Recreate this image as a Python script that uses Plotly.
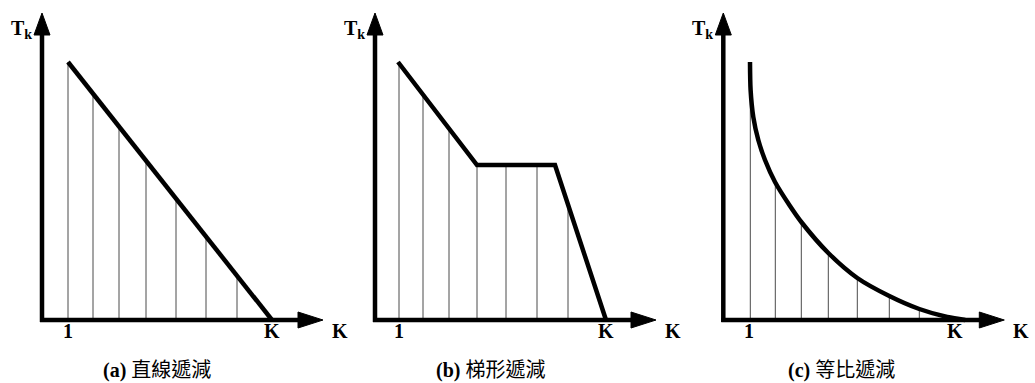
import plotly.graph_objects as go

# Panel geometry is expressed in screen-like units: origin of each panel's axes at (0, 0)
# Step positions k (thin vertical lines) and temperature T_k at each step

# (a) linear decrease
k_a = [26, 51, 77, 104, 134, 164, 195]
T_a = [258, 226, 193, 159, 121, 83, 44]
curve_a_k = [26, 230]
curve_a_T = [258, 0]

# (b) trapezoid decrease
k_b = [24, 48, 74, 102, 131, 162, 193]
T_b = [257, 225, 191, 155, 155, 155, 116]
curve_b_k = [23, 102, 180, 231]
curve_b_T = [258, 155, 155, 0]

# (c) geometric decrease
k_c = [27, 52, 78, 105, 134, 166, 196]
T_c = [230, 138, 98, 67, 42, 24, 11]
curve_c_k = [26.7, 27.3, 30, 35, 41.7, 51.7, 66.7, 78, 105, 134, 166, 196, 224, 242]
curve_c_T = [258, 230, 203, 180, 160, 138, 114, 98, 67, 42, 24, 11, 3, 0]

first_tick = [26, 24, 26]
last_tick = [230, 231, 232]
captions = ["(a)", "(b)", "(c)"]
caption_words = ["直線遞減", "梯形遞減", "等比遞減"]

W, H = 1035, 383
origins = [42, 375, 723.3]      # pixel x of each panel's vertical axis
panel_left = [0, 345, 690]
panel_right = [345, 690, 1035]
origin_y = 63                   # pixel distance of horizontal axis from the bottom

panels = [
    (k_a, T_a, curve_a_k, curve_a_T, "linear"),
    (k_b, T_b, curve_b_k, curve_b_T, "linear"),
    (k_c, T_c, curve_c_k, curve_c_T, "spline"),
]

fig = go.Figure()
shapes = []
annotations = []
SERIF = "Times New Roman, Liberation Serif, Noto Sans CJK TC, serif"

for i, (ks, Ts, ck, cT, shape) in enumerate(panels):
    n = "" if i == 0 else str(i + 1)
    xa, ya = "x" + n, "y" + n
    left = panel_left[i]
    right = panel_right[i]
    o = origins[i]
    fig.layout["xaxis" + n] = dict(
        domain=[left / W, right / W], range=[left - o, right - o],
        visible=False, fixedrange=True,
    )
    fig.layout["yaxis" + n] = dict(
        domain=[0, 1], range=[-origin_y, H - origin_y],
        visible=False, fixedrange=True,
    )

    # thin vertical step lines
    vx, vy = [], []
    for k, t in zip(ks, Ts):
        vx += [k, k, None]
        vy += [0, t, None]
    fig.add_trace(go.Scatter(
        x=vx, y=vy, mode="lines", xaxis=xa, yaxis=ya,
        line=dict(color="#4a4a4a", width=1), hoverinfo="skip", showlegend=False,
    ))

    # temperature schedule curve
    fig.add_trace(go.Scatter(
        x=ck, y=cT, mode="lines", xaxis=xa, yaxis=ya,
        line=dict(color="black", width=4.5, shape=shape, smoothing=0.8),
        hoverinfo="skip", showlegend=False,
    ))

    # axes with arrow heads
    shapes.append(dict(type="line", xref=xa, yref=ya, x0=-2, y0=0, x1=258, y1=0,
                       line=dict(color="black", width=4.5)))
    shapes.append(dict(type="line", xref=xa, yref=ya, x0=0, y0=-2, x1=0, y1=287,
                       line=dict(color="black", width=4.5)))
    shapes.append(dict(type="path", xref=xa, yref=ya,
                       path="M 256 -8 L 281 0 L 256 8 Z",
                       fillcolor="black", line=dict(color="black", width=1)))
    shapes.append(dict(type="path", xref=xa, yref=ya,
                       path="M -8 285 L 0 307 L 8 285 Z",
                       fillcolor="black", line=dict(color="black", width=1)))

    # labels
    annotations.append(dict(
        xref=xa, yref=ya, x=-8, y=291, xanchor="right", yanchor="middle",
        text="<b>T<sub>k</sub></b>", showarrow=False,
        font=dict(family=SERIF, size=20, color="black"),
    ))
    for pos, lab in [(first_tick[i], "1"), (last_tick[i], "K")]:
        annotations.append(dict(
            xref=xa, yref=ya, x=pos, y=-11, xanchor="center", yanchor="middle",
            text="<b>%s</b>" % lab, showarrow=False,
            font=dict(family=SERIF, size=20, color="black"),
        ))
    annotations.append(dict(
        xref=xa, yref=ya, x=298, y=-11, xanchor="center", yanchor="middle",
        text="<b>K</b>", showarrow=False,
        font=dict(family=SERIF, size=20, color="black"),
    ))
    cap_center = [157, 490, 841][i]
    annotations.append(dict(
        xref=xa, yref=ya, x=cap_center - o, y=-50, xanchor="center", yanchor="middle",
        text="<b>%s</b> %s" % (captions[i], caption_words[i]), showarrow=False,
        font=dict(family=SERIF, size=20, color="black"),
    ))

fig.update_layout(
    width=W, height=H, autosize=False,
    margin=dict(l=0, r=0, t=0, b=0),
    paper_bgcolor="white", plot_bgcolor="white",
    shapes=shapes, annotations=annotations,
)

fig.write_html("out.html", config={"displayModeBar": False})
